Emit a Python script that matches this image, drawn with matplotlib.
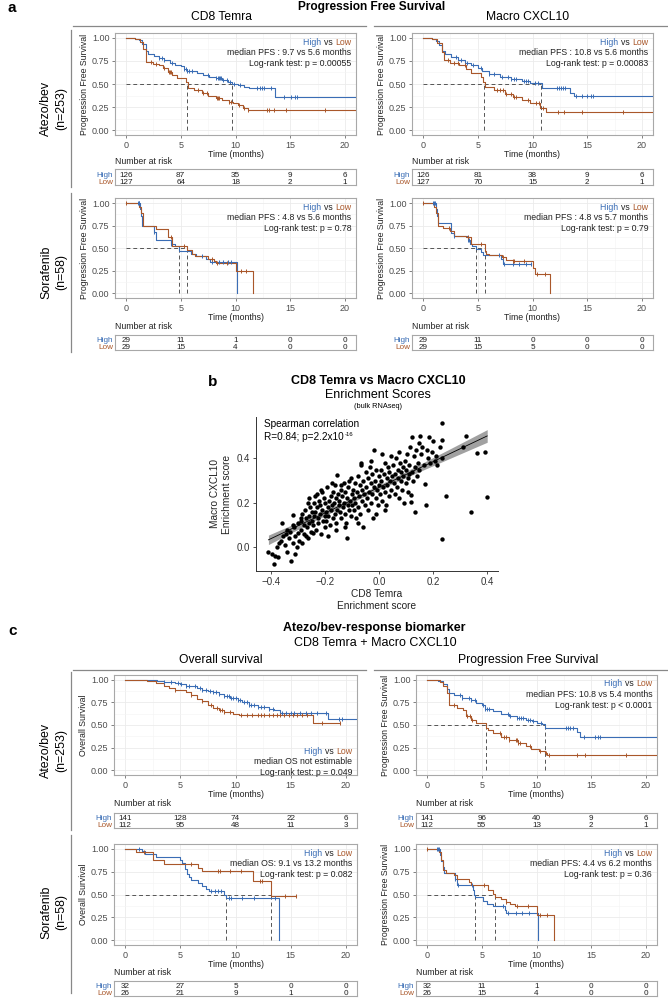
import numpy as np
import matplotlib
matplotlib.use('Agg')
import matplotlib.pyplot as plt
from matplotlib.lines import Line2D

plt.rcParams['font.family'] = ['Liberation Sans', 'DejaVu Sans']

BLUE = '#3A6DB5'
BROWN = '#A9572A'
GRAYTXT = '#4D4D4D'

risk_times = [0, 5, 10, 15, 20]

# ---------------- Panel a : CD8 Temra, Atezo/bev (PFS) ----------------
a11_high_t = [0, 0.8, 1.2, 1.5, 1.8, 2.0, 2.6, 3.0, 3.5, 4.0, 4.5, 5.0, 5.3, 5.6, 6.5, 7.0, 7.6, 8.2, 8.8, 9.3, 9.7, 10.2, 10.8, 11.2, 13.6]
a11_high_s = [1.0, 0.985, 0.97, 0.93, 0.86, 0.82, 0.80, 0.78, 0.76, 0.73, 0.71, 0.69, 0.66, 0.64, 0.62, 0.60, 0.58, 0.56, 0.545, 0.52, 0.50, 0.49, 0.47, 0.46, 0.36]
a11_high_cens = [3.0, 3.3, 3.5, 4.2, 5.3, 5.5, 5.6, 5.8, 6.0, 7.5, 8.2, 8.4, 8.5, 8.6, 8.7, 8.9, 9.2, 9.5, 9.9, 10.4, 12.0, 12.2, 12.4, 12.6, 13.2, 14.4, 15.1, 15.4, 15.6]
a11_high_end = 21
a11_low_t = [0, 0.8, 1.3, 1.6, 1.85, 2.5, 3.0, 3.4, 3.8, 4.2, 4.7, 5.5, 5.65, 6.2, 6.9, 7.5, 8.2, 8.8, 9.4, 9.8, 10.2, 10.7, 11.1]
a11_low_s = [1.0, 0.98, 0.95, 0.88, 0.74, 0.72, 0.70, 0.67, 0.63, 0.60, 0.56, 0.52, 0.46, 0.43, 0.40, 0.37, 0.35, 0.33, 0.31, 0.29, 0.27, 0.245, 0.215]
a11_low_cens = [2.3, 2.7, 3.5, 3.9, 4.0, 4.1, 6.6, 7.0, 7.4, 8.3, 8.4, 8.5, 9.4, 9.6, 10.3, 10.8, 11.1, 12.9, 13.1, 13.5, 14.6, 18.2]
a11_low_end = 21
a11_medians = [9.7, 5.6]
a11_risk_high = [126, 87, 35, 9, 6]
a11_risk_low = [127, 64, 18, 2, 1]
a11_text = ['median PFS : 9.7 vs 5.6 months', 'Log-rank test: p = 0.00055']

# ---------------- Panel a : Macro CXCL10, Atezo/bev (PFS) ----------------
a12_high_t = [0, 0.8, 1.2, 1.5, 1.75, 2.0, 2.6, 3.2, 3.8, 4.4, 5.0, 5.4, 6.0, 7.0, 8.0, 9.0, 9.8, 10.9, 13.4, 13.8]
a12_high_s = [1.0, 0.98, 0.96, 0.92, 0.86, 0.82, 0.79, 0.76, 0.73, 0.70, 0.67, 0.64, 0.61, 0.58, 0.55, 0.53, 0.51, 0.46, 0.40, 0.37]
a12_high_cens = [3.0, 3.5, 4.0, 4.6, 5.3, 6.0, 6.5, 7.2, 7.8, 8.0, 8.3, 8.5, 9.2, 9.4, 9.6, 10.2, 10.5, 12.2, 12.4, 12.6, 12.8, 13.0, 14.0, 14.5, 15.0, 15.3, 15.5]
a12_high_end = 21
a12_low_t = [0, 0.8, 1.3, 1.7, 1.9, 2.5, 3.3, 3.9, 4.4, 5.3, 5.5, 5.7, 6.5, 7.5, 8.2, 9.0, 9.8, 10.7, 11.2]
a12_low_s = [1.0, 0.98, 0.94, 0.85, 0.76, 0.73, 0.70, 0.66, 0.62, 0.58, 0.52, 0.47, 0.43, 0.39, 0.36, 0.33, 0.30, 0.24, 0.20]
a12_low_cens = [2.3, 2.8, 3.2, 3.8, 6.8, 7.0, 7.3, 7.6, 8.0, 8.3, 8.5, 9.6, 10.3, 10.6, 11.0, 12.3, 12.9, 14.5, 18.3]
a12_low_end = 21
a12_medians = [10.8, 5.6]
a12_risk_high = [126, 81, 38, 9, 6]
a12_risk_low = [127, 70, 15, 2, 1]
a12_text = ['median PFS : 10.8 vs 5.6 months', 'Log-rank test: p = 0.00083']

# ---------------- Panel a : CD8 Temra, Sorafenib (PFS) ----------------
a21_high_t = [0, 1.3, 1.4, 1.5, 2.6, 2.7, 4.1, 4.5, 4.8, 5.9, 6.4, 7.3, 7.7, 10.1]
a21_high_s = [1.0, 0.93, 0.86, 0.75, 0.68, 0.59, 0.55, 0.52, 0.47, 0.44, 0.41, 0.38, 0.35, 0.0]
a21_high_cens = [1.1, 1.15, 1.2, 2.6, 4.1, 6.9, 7.9, 8.5, 8.9, 9.3, 9.6]
a21_high_end = 10.1
a21_low_t = [0, 1.2, 1.4, 1.6, 2.7, 3.8, 4.2, 5.6, 6.0, 6.3, 7.5, 8.0, 8.2, 10.0, 11.6]
a21_low_s = [1.0, 0.96, 0.89, 0.75, 0.71, 0.62, 0.53, 0.48, 0.44, 0.41, 0.38, 0.36, 0.34, 0.25, 0.0]
a21_low_cens = [0, 4.1, 5.3, 7.9, 8.3, 9.2, 10.5, 11.0]
a21_low_end = 11.6
a21_medians = [4.8, 5.6]
a21_risk_high = [29, 11, 1, 0, 0]
a21_risk_low = [29, 15, 4, 0, 0]
a21_text = ['median PFS : 4.8 vs 5.6 months', 'Log-rank test: p = 0.78']

# ---------------- Panel a : Macro CXCL10, Sorafenib (PFS) ----------------
a22_high_t = [0, 1.2, 1.3, 1.4, 2.6, 2.8, 4.1, 4.3, 4.5, 4.8, 5.3, 5.5, 7.1, 7.3]
a22_high_s = [1.0, 0.93, 0.86, 0.78, 0.67, 0.63, 0.59, 0.55, 0.52, 0.49, 0.46, 0.42, 0.38, 0.33]
a22_high_cens = [0.9, 1.0, 1.1, 2.8, 4.1, 4.2, 6.9, 7.4, 8.2, 8.8, 9.4, 9.9]
a22_high_end = 9.9
a22_low_t = [0, 1.0, 1.2, 1.4, 1.8, 2.5, 2.8, 3.9, 4.4, 5.7, 5.8, 6.0, 7.2, 7.6, 8.2, 10.0, 10.2, 11.6]
a22_low_s = [1.0, 0.96, 0.89, 0.75, 0.72, 0.69, 0.64, 0.62, 0.55, 0.47, 0.44, 0.42, 0.40, 0.37, 0.36, 0.28, 0.21, 0.0]
a22_low_cens = [0, 2.4, 4.1, 5.3, 7.3, 8.2, 8.3, 9.2, 10.4, 11.1]
a22_low_end = 11.6
a22_medians = [4.8, 5.7]
a22_risk_high = [29, 11, 0, 0, 0]
a22_risk_low = [29, 15, 5, 0, 0]
a22_text = ['median PFS : 4.8 vs 5.7 months', 'Log-rank test: p = 0.79']

# ---------------- Panel c : Overall survival, Atezo/bev ----------------
c11_high_t = [0, 2.9, 3.5, 4.5, 5.0, 5.5, 6.5, 7.0, 7.5, 8.0, 8.5, 9.0, 9.5, 10.2, 10.6, 11.2, 12.0, 13.0, 13.5, 14.0, 18.4]
c11_high_s = [1.0, 0.98, 0.97, 0.96, 0.95, 0.93, 0.91, 0.89, 0.87, 0.86, 0.84, 0.82, 0.80, 0.78, 0.75, 0.72, 0.70, 0.68, 0.66, 0.63, 0.57]
c11_high_cens = [3.5, 4.2, 4.8, 5.1, 5.5, 5.8, 6.3, 6.8, 7.0, 7.3, 7.7, 8.0, 8.2, 8.5, 9.0, 9.2, 9.4, 9.6, 9.8, 10.0, 10.2, 10.4, 10.8, 11.0, 11.2, 11.4, 11.7, 12.0, 12.3, 12.6, 13.0, 13.4, 14.2, 14.6, 15.0, 15.3, 15.8, 16.4, 16.8, 17.4, 18.2, 19.4, 19.6]
c11_high_end = 21
c11_low_t = [0, 1.0, 2.0, 2.8, 3.5, 4.0, 4.5, 5.5, 6.0, 6.5, 7.0, 7.5, 8.0, 8.5, 9.0, 9.8, 10.3, 17.0]
c11_low_s = [1.0, 0.99, 0.98, 0.96, 0.93, 0.91, 0.88, 0.86, 0.83, 0.79, 0.76, 0.72, 0.69, 0.66, 0.64, 0.62, 0.61, 0.52]
c11_low_cens = [4.5, 6.0, 7.0, 7.8, 8.3, 8.6, 8.8, 9.0, 9.5, 10.5, 11.0, 11.5, 12.0, 12.3, 12.6, 13.0, 13.4, 13.8, 14.0, 14.4, 14.8, 15.2, 15.6, 16.0, 16.5, 17.8, 19.5]
c11_low_end = 19.5
c11_medians = []
c11_risk_high = [141, 128, 74, 22, 6]
c11_risk_low = [112, 95, 48, 11, 3]
c11_text = ['median OS not estimable', 'Log-rank test: p = 0.049']

# ---------------- Panel c : PFS, Atezo/bev ----------------
c12_high_t = [0, 1.0, 1.5, 1.8, 2.0, 2.5, 3.2, 4.0, 4.5, 5.0, 5.3, 6.0, 6.8, 7.5, 8.2, 9.0, 9.6, 10.0, 10.5, 10.8, 13.7, 14.0]
c12_high_s = [1.0, 0.98, 0.95, 0.90, 0.85, 0.83, 0.80, 0.77, 0.74, 0.72, 0.68, 0.65, 0.62, 0.60, 0.58, 0.56, 0.54, 0.52, 0.51, 0.47, 0.42, 0.37]
c12_high_cens = [3.0, 3.2, 3.8, 4.0, 4.4, 5.1, 5.3, 5.5, 5.7, 7.4, 7.6, 8.2, 8.4, 8.6, 8.8, 9.2, 9.4, 9.7, 10.4, 12.7, 12.9, 13.1, 13.3, 14.3, 15.3, 15.6, 15.8]
c12_high_end = 21
c12_low_t = [0, 1.2, 1.5, 1.8, 2.0, 2.7, 3.3, 3.6, 4.0, 4.5, 5.4, 5.6, 6.0, 6.8, 7.5, 8.3, 9.0, 9.5, 10.2, 10.8, 11.0]
c12_low_s = [1.0, 0.97, 0.93, 0.85, 0.72, 0.69, 0.66, 0.60, 0.55, 0.52, 0.47, 0.44, 0.41, 0.37, 0.33, 0.30, 0.27, 0.24, 0.21, 0.19, 0.17]
c12_low_cens = [2.5, 3.7, 3.9, 4.1, 6.7, 7.0, 7.2, 7.5, 8.1, 8.2, 8.3, 8.5, 9.4, 10.3, 10.9, 11.1, 13.7, 14.4, 18.2]
c12_low_end = 21
c12_medians = [10.8, 5.4]
c12_risk_high = [141, 96, 40, 9, 6]
c12_risk_low = [112, 55, 13, 2, 1]
c12_text = ['median PFS: 10.8 vs 5.4 months', 'Log-rank test: p < 0.0001']

# ---------------- Panel c : Overall survival, Sorafenib ----------------
c21_high_t = [0, 1.5, 1.8, 2.8, 5.0, 5.2, 5.4, 5.6, 5.8, 6.0, 6.6, 7.0, 7.3, 7.6, 9.0, 9.1, 13.9]
c21_high_s = [1.0, 0.97, 0.94, 0.91, 0.88, 0.84, 0.78, 0.72, 0.69, 0.66, 0.62, 0.59, 0.56, 0.54, 0.50, 0.46, 0.0]
c21_high_cens = [1.3, 7.8, 8.1, 8.4, 8.7, 9.4, 9.6, 10.6, 11.7, 13.6]
c21_high_end = 13.9
c21_low_t = [0, 1.0, 2.5, 3.5, 6.6, 7.0, 11.6, 13.2]
c21_low_s = [1.0, 0.96, 0.88, 0.83, 0.79, 0.76, 0.65, 0.48]
c21_low_cens = [1.7, 6.0, 8.4, 8.6, 9.5, 10.5, 12.2, 12.4, 14.5, 15.5]
c21_low_end = 15.5
c21_medians = [9.1, 13.2]
c21_risk_high = [32, 27, 5, 0, 0]
c21_risk_low = [26, 21, 9, 1, 0]
c21_text = ['median OS: 9.1 vs 13.2 months', 'Log-rank test: p = 0.082']

# ---------------- Panel c : PFS, Sorafenib ----------------
c22_high_t = [0, 1.2, 1.3, 1.5, 1.6, 2.6, 2.7, 4.2, 4.3, 4.4, 5.1, 5.5, 6.0, 7.1, 7.2, 10.1]
c22_high_s = [1.0, 0.93, 0.86, 0.80, 0.73, 0.67, 0.60, 0.55, 0.50, 0.47, 0.43, 0.40, 0.37, 0.33, 0.30, 0.0]
c22_high_cens = [0.9, 1.0, 1.1, 2.6, 2.8, 4.1, 6.9, 7.4, 8.1, 8.7, 9.3]
c22_high_end = 10.1
c22_low_t = [0, 1.1, 1.3, 1.5, 1.7, 2.5, 2.7, 3.8, 4.0, 5.6, 6.0, 6.2, 6.8, 7.2, 7.6, 8.0, 10.0, 11.6]
c22_low_s = [1.0, 0.96, 0.88, 0.77, 0.73, 0.71, 0.67, 0.64, 0.60, 0.55, 0.51, 0.47, 0.45, 0.42, 0.40, 0.38, 0.28, 0.0]
c22_low_cens = [0, 5.2, 7.2, 8.2, 9.2, 10.3, 11.0]
c22_low_end = 11.6
c22_medians = [4.4, 6.2]
c22_risk_high = [32, 11, 1, 0, 0]
c22_risk_low = [26, 15, 4, 0, 0]
c22_text = ['median PFS: 4.4 vs 6.2 months', 'Log-rank test: p = 0.36']

# ---------------- Panel b : scatter ----------------
b_cd8 = [-0.41, -0.39, -0.385, -0.395, -0.38, -0.375, -0.37, -0.36, -0.365, -0.355, -0.35, -0.345, -0.34,
         -0.335, -0.33, -0.325, -0.32, -0.318, -0.315, -0.31, -0.305, -0.30, -0.30, -0.31, -0.32, -0.34, -0.295,
         -0.29, -0.288, -0.285, -0.28, -0.278, -0.275, -0.27, -0.268, -0.265, -0.262, -0.26, -0.258, -0.255, -0.252, -0.25, -0.285, -0.29, -0.27, -0.26,
         -0.248, -0.245, -0.243, -0.24, -0.238, -0.235, -0.232, -0.23, -0.228, -0.225, -0.222, -0.22, -0.218, -0.215, -0.212, -0.21, -0.208, -0.205, -0.202, -0.20, -0.245, -0.236, -0.215, -0.20,
         -0.198, -0.195, -0.192, -0.19, -0.188, -0.185, -0.182, -0.18, -0.178, -0.175, -0.172, -0.17, -0.168, -0.165, -0.162, -0.16, -0.158, -0.156, -0.155, -0.152, -0.15, -0.19, -0.175, -0.16,
         -0.148, -0.145, -0.142, -0.14, -0.138, -0.135, -0.132, -0.13, -0.128, -0.125, -0.122, -0.12, -0.118, -0.116, -0.114, -0.112, -0.11, -0.108, -0.105, -0.102, -0.10, -0.14, -0.125, -0.105,
         -0.098, -0.095, -0.092, -0.09, -0.088, -0.085, -0.082, -0.08, -0.078, -0.075, -0.072, -0.07, -0.068, -0.066, -0.065, -0.062, -0.06, -0.058, -0.055, -0.052, -0.05, -0.08,
         -0.048, -0.045, -0.042, -0.04, -0.038, -0.035, -0.032, -0.03, -0.028, -0.025, -0.022, -0.02, -0.018, -0.015, -0.012, -0.01, -0.008, -0.005, -0.002, 0.0, -0.03, -0.01,
         0.003, 0.006, 0.008, 0.01, 0.012, 0.015, 0.018, 0.02, 0.022, 0.025, 0.028, 0.03, 0.032, 0.035, 0.038, 0.04, 0.042, 0.045, 0.048, 0.02,
         0.052, 0.055, 0.058, 0.06, 0.062, 0.065, 0.068, 0.07, 0.072, 0.075, 0.078, 0.08, 0.082, 0.085, 0.088, 0.09, 0.092, 0.095, 0.098, 0.10,
         0.102, 0.105, 0.108, 0.11, 0.112, 0.115, 0.118, 0.118, 0.12, 0.122, 0.125, 0.128, 0.131, 0.133, 0.136, 0.14, 0.143, 0.146, 0.15, 0.148,
         0.155, 0.16, 0.165, 0.17, 0.174, 0.178, 0.182, 0.186, 0.19, 0.195, 0.20, 0.205, 0.21, 0.215, 0.225, 0.232, 0.232, 0.232, 0.232, 0.248,
         0.31, 0.322, 0.34, 0.364, 0.393, 0.40]
b_cxcl10 = [-0.02, -0.075, -0.04, -0.03, 0.0, -0.045, 0.02, 0.11, 0.03, 0.05, 0.01, 0.06, -0.02,
            0.04, 0.07, -0.063, 0.02, 0.145, 0.09, 0.05, 0.0, 0.11, 0.065, -0.03, 0.10, 0.08, 0.03,
            0.08, 0.12, 0.15, 0.10, 0.06, 0.17, 0.13, 0.09, 0.20, 0.04, 0.14, 0.11, 0.18, 0.07, 0.16, 0.02, 0.13, 0.05, 0.22,
            0.12, 0.10, 0.20, 0.14, 0.16, 0.08, 0.18, 0.24, 0.13, 0.11, 0.21, 0.15, 0.19, 0.06, 0.17, 0.25, 0.12, 0.22, 0.14, 0.09, 0.065, 0.23, 0.26, 0.20,
            0.16, 0.12, 0.27, 0.18, 0.14, 0.21, 0.10, 0.23, 0.17, 0.19, 0.13, 0.25, 0.20, 0.15, 0.28, 0.08, 0.22, 0.325, 0.17, 0.24, 0.19, 0.05, 0.29, 0.11,
            0.21, 0.16, 0.26, 0.13, 0.23, 0.18, 0.29, 0.20, 0.15, 0.25, 0.11, 0.22, 0.04, 0.19, 0.27, 0.17, 0.30, 0.21, 0.14, 0.24, 0.19, 0.28, 0.09, 0.31,
            0.26, 0.17, 0.22, 0.29, 0.20, 0.13, 0.25, 0.32, 0.18, 0.23, 0.28, 0.15, 0.38, 0.37, 0.21, 0.26, 0.30, 0.09, 0.24, 0.19, 0.34, 0.11,
            0.27, 0.22, 0.31, 0.17, 0.25, 0.36, 0.20, 0.29, 0.24, 0.33, 0.13, 0.27, 0.44, 0.30, 0.22, 0.35, 0.26, 0.19, 0.32, 0.28, 0.39, 0.15,
            0.24, 0.35, 0.30, 0.21, 0.42, 0.27, 0.33, 0.25, 0.38, 0.19, 0.31, 0.28, 0.36, 0.23, 0.34, 0.30, 0.41, 0.26, 0.32, 0.17,
            0.37, 0.29, 0.24, 0.33, 0.40, 0.27, 0.35, 0.31, 0.43, 0.22, 0.38, 0.30, 0.34, 0.26, 0.36, 0.32, 0.20, 0.39, 0.29, 0.35,
            0.42, 0.31, 0.25, 0.37, 0.33, 0.45, 0.237, 0.204, 0.497, 0.34, 0.30, 0.41, 0.159, 0.36, 0.44, 0.32, 0.38, 0.47, 0.50, 0.35,
            0.42, 0.45, 0.37, 0.287, 0.19, 0.44, 0.40, 0.497, 0.38, 0.43, 0.477, 0.39, 0.41, 0.37, 0.45, 0.56, 0.485, 0.035, 0.40, 0.23,
            0.45, 0.50, 0.16, 0.425, 0.43, 0.225]

W, H = 668, 999
fig = plt.figure(figsize=(6.68, 9.99), dpi=100)
fig.patch.set_facecolor('white')


def rect(x0, y0, x1, y1):
    return [x0 / W, 1 - y1 / H, (x1 - x0) / W, (y1 - y0) / H]


def ftext(x, y, s, **kw):
    return fig.text(x / W, 1 - y / H, s, **kw)


def fline(x0, y0, x1, y1, **kw):
    fig.add_artist(Line2D([x0 / W, x1 / W], [1 - y0 / H, 1 - y1 / H], transform=fig.transFigure, **kw))


def draw_curve(ax, t, s, cens, end, color):
    tt = list(t) + [end]
    ss = list(s) + [s[-1]]
    ax.step(tt, ss, where='post', color=color, lw=0.8, zorder=3)
    t_arr = np.array(t)
    s_arr = np.array(s)
    c = np.array(cens, dtype=float)
    idx = np.searchsorted(t_arr, c, side='right') - 1
    ax.plot(c, s_arr[idx], ls='none', marker='|', color=color, ms=3.5, mew=0.7, zorder=4)


def colored_hvl(ax, x, y, fs):
    low = ax.text(x, y, 'Low', color=BROWN, fontsize=fs, ha='right', va='top', transform=ax.transAxes)
    vs = ax.annotate('vs ', xy=(0, 0), xycoords=low, color='#222222', fontsize=fs, ha='right', va='bottom')
    ax.annotate('High ', xy=(0, 0), xycoords=vs, color=BLUE, fontsize=fs, ha='right', va='bottom')


def km_panel(px, py, ty, high, low, medians, ylabel, texts, text_bottom, risk_high, risk_low):
    x0, x1 = px
    y0, y1 = py
    ax = fig.add_axes(rect(x0, y0, x1, y1))
    ax.set_xlim(-1, 21)
    ax.set_ylim(-0.05, 1.05)
    ax.set_xticks(risk_times)
    ax.set_xticks([2.5, 7.5, 12.5, 17.5], minor=True)
    ax.set_yticks([0, 0.25, 0.5, 0.75, 1.0])
    ax.set_yticks([0.125, 0.375, 0.625, 0.875], minor=True)
    ax.set_yticklabels(['0.00', '0.25', '0.50', '0.75', '1.00'])
    ax.grid(True, which='major', color='#EBEBEB', lw=0.6, zorder=0)
    ax.grid(True, which='minor', color='#F4F4F4', lw=0.4, zorder=0)
    ax.set_axisbelow(True)
    for sp in ax.spines.values():
        sp.set_color('#A8A8A8')
        sp.set_linewidth(0.8)
    ax.tick_params(which='major', labelsize=6.5, colors=GRAYTXT, length=2, width=0.5, pad=2)
    ax.tick_params(which='minor', length=0)
    ax.set_ylabel(ylabel, fontsize=6.3, color='#222222', labelpad=2)
    ax.set_xlabel('Time (months)', fontsize=6.3, color='#222222', labelpad=0)
    if medians:
        ax.plot([0, max(medians)], [0.5, 0.5], ls=(0, (4, 3)), color='#555555', lw=0.7, zorder=2)
        for m in medians:
            ax.plot([m, m], [0, 0.5], ls=(0, (4, 3)), color='#555555', lw=0.7, zorder=2)
    draw_curve(ax, *high, BLUE)
    draw_curve(ax, *low, BROWN)
    fs = 6.3
    if text_bottom:
        ys = [0.28, 0.175, 0.07]
    else:
        ys = [0.955, 0.85, 0.745]
    colored_hvl(ax, 0.98, ys[0], fs)
    for yy, s in zip(ys[1:], texts):
        ax.text(0.98, yy, s, fontsize=fs, ha='right', va='top', transform=ax.transAxes, color='#222222')
    # risk table
    t0, t1 = ty
    ftext(x0, t0 - 4, 'Number at risk', fontsize=6.3, ha='left', va='bottom', color='#222222')
    tab = fig.add_axes(rect(x0, t0, x1, t1))
    tab.set_xlim(-1, 21)
    tab.set_ylim(0, 2)
    tab.set_xticks([])
    tab.set_yticks([])
    for v in risk_times:
        tab.axvline(v, color='#EFEFEF', lw=0.5, zorder=0)
    for sp in tab.spines.values():
        sp.set_color('#A8A8A8')
        sp.set_linewidth(0.8)
    tfs = 5.9
    for tt, h, l in zip(risk_times, risk_high, risk_low):
        tab.text(tt, 1.03, str(h), fontsize=tfs, ha='center', va='baseline', color='#222222')
        tab.text(tt, 0.13, str(l), fontsize=tfs, ha='center', va='baseline', color='#222222')
    tab.text(-0.008, 0.515, 'High', fontsize=tfs, ha='right', va='baseline', color=BLUE, transform=tab.transAxes)
    tab.text(-0.008, 0.065, 'Low', fontsize=tfs, ha='right', va='baseline', color=BROWN, transform=tab.transAxes)
    return ax


PFS = 'Progression Free Survival'
OS = 'Overall Survival'

# ---------------- Panel a layout ----------------
ftext(8, 8, 'a', fontsize=11, fontweight='bold', ha='left', va='center')
ftext(372, 7, 'Progression Free Survival', fontsize=8.6, fontweight='bold', ha='center', va='center')
ftext(221, 17, 'CD8 Temra', fontsize=8.7, ha='center', va='center')
ftext(528, 17, 'Macro CXCL10', fontsize=8.7, ha='center', va='center')
fline(73, 26, 366, 26, color='#888888', lw=0.9)
fline(374, 26, 668, 26, color='#888888', lw=0.9)
fline(70.5, 30, 70.5, 187, color='#888888', lw=0.9)
fline(70.5, 193, 70.5, 352, color='#888888', lw=0.9)
ftext(54, 108, 'Atezo/bev\n(n=253)', fontsize=8.9, rotation=90, ha='center', va='center', linespacing=1.35)
ftext(54, 272, 'Sorafenib\n(n=58)', fontsize=8.9, rotation=90, ha='center', va='center', linespacing=1.35)

km_panel((115, 356), (33, 135), (169.5, 185),
         (a11_high_t, a11_high_s, a11_high_cens, a11_high_end),
         (a11_low_t, a11_low_s, a11_low_cens, a11_low_end),
         a11_medians, PFS, a11_text, False, a11_risk_high, a11_risk_low)
km_panel((412, 653), (33, 135), (169.5, 185),
         (a12_high_t, a12_high_s, a12_high_cens, a12_high_end),
         (a12_low_t, a12_low_s, a12_low_cens, a12_low_end),
         a12_medians, PFS, a12_text, False, a12_risk_high, a12_risk_low)
km_panel((115, 356), (198.5, 298), (335, 350),
         (a21_high_t, a21_high_s, a21_high_cens, a21_high_end),
         (a21_low_t, a21_low_s, a21_low_cens, a21_low_end),
         a21_medians, PFS, a21_text, False, a21_risk_high, a21_risk_low)
km_panel((412, 653), (198.5, 298), (335, 350),
         (a22_high_t, a22_high_s, a22_high_cens, a22_high_end),
         (a22_low_t, a22_low_s, a22_low_cens, a22_low_end),
         a22_medians, PFS, a22_text, False, a22_risk_high, a22_risk_low)

# ---------------- Panel b ----------------
ftext(213, 382, 'b', fontsize=11, fontweight='bold', ha='center', va='center')
ftext(378, 381, 'CD8 Temra vs Macro CXCL10', fontsize=9, fontweight='bold', ha='center', va='center')
ftext(378, 395, 'Enrichment Scores', fontsize=9, ha='center', va='center')
ftext(378, 406.5, '(bulk RNAseq)', fontsize=5.3, ha='center', va='center')

bx = fig.add_axes(rect(256, 417, 498, 571))
xs = np.array(b_cd8)
ys = np.array(b_cxcl10)
coef = np.polyfit(xs, ys, 1)
xg = np.linspace(xs.min(), xs.max(), 100)
yg = np.polyval(coef, xg)
n = len(xs)
resid = ys - np.polyval(coef, xs)
se = np.sqrt(np.sum(resid ** 2) / (n - 2))
sxx = np.sum((xs - xs.mean()) ** 2)
band = 1.97 * se * np.sqrt(1 / n + (xg - xs.mean()) ** 2 / sxx)
bx.fill_between(xg, yg - band, yg + band, color='#555555', alpha=0.55, lw=0, zorder=2)
bx.scatter(xs, ys, s=10, color='black', lw=0, zorder=3)
bx.plot(xg, yg, color='black', lw=0.6, zorder=4)
bx.set_xlim(-0.456, 0.44)
bx.set_ylim(-0.107, 0.587)
bx.set_xticks([-0.4, -0.2, 0.0, 0.2, 0.4])
bx.set_xticklabels(['\u22120.4', '\u22120.2', '0.0', '0.2', '0.4'])
bx.set_yticks([0.0, 0.2, 0.4])
bx.set_yticklabels(['0.0', '0.2', '0.4'])
for side in ['top', 'right']:
    bx.spines[side].set_visible(False)
for side in ['left', 'bottom']:
    bx.spines[side].set_color('#333333')
    bx.spines[side].set_linewidth(0.7)
bx.tick_params(labelsize=7, colors='#333333', length=2.5, width=0.6, pad=2)
bx.set_xlabel('CD8 Temra\nEnrichment score', fontsize=7.3, color='#222222', labelpad=1, linespacing=1.25)
bx.set_ylabel('Macro CXCL10\nEnrichment score', fontsize=7.3, color='#222222', labelpad=3, linespacing=1.25)
bx.text(0.035, 0.985, 'Spearman correlation', transform=bx.transAxes, fontsize=7.2, ha='left', va='top')
rtxt = bx.text(0.035, 0.905, 'R=0.84; p=2.2x10', transform=bx.transAxes, fontsize=7.2, ha='left', va='top')
bx.annotate('-16', xy=(1, 1), xycoords=rtxt, fontsize=4.3, ha='left', va='top', xytext=(0.3, 0), textcoords='offset points')

# ---------------- Panel c layout ----------------
ftext(8, 631, 'c', fontsize=11, fontweight='bold', ha='left', va='center')
ftext(374, 628, 'Atezo/bev-response biomarker', fontsize=9, fontweight='bold', ha='center', va='center')
ftext(375, 643, 'CD8 Temra + Macro CXCL10', fontsize=9, ha='center', va='center')
ftext(221, 660, 'Overall survival', fontsize=8.7, ha='center', va='center')
ftext(528, 660, 'Progression Free Survival', fontsize=8.7, ha='center', va='center')
fline(73, 669.5, 366, 669.5, color='#888888', lw=0.9)
fline(374, 669.5, 668, 669.5, color='#888888', lw=0.9)
fline(70.5, 672, 70.5, 830, color='#888888', lw=0.9)
fline(70.5, 835, 70.5, 993, color='#888888', lw=0.9)
ftext(54, 750, 'Atezo/bev\n(n=253)', fontsize=8.9, rotation=90, ha='center', va='center', linespacing=1.35)
ftext(54, 912, 'Sorafenib\n(n=58)', fontsize=8.9, rotation=90, ha='center', va='center', linespacing=1.35)

km_panel((114, 357), (675, 775), (812.5, 828),
         (c11_high_t, c11_high_s, c11_high_cens, c11_high_end),
         (c11_low_t, c11_low_s, c11_low_cens, c11_low_end),
         c11_medians, OS, c11_text, True, c11_risk_high, c11_risk_low)
km_panel((416, 657), (675, 775), (812.5, 828),
         (c12_high_t, c12_high_s, c12_high_cens, c12_high_end),
         (c12_low_t, c12_low_s, c12_low_cens, c12_low_end),
         c12_medians, PFS, c12_text, False, c12_risk_high, c12_risk_low)
km_panel((114, 357), (844, 945), (981, 996),
         (c21_high_t, c21_high_s, c21_high_cens, c21_high_end),
         (c21_low_t, c21_low_s, c21_low_cens, c21_low_end),
         c21_medians, OS, c21_text, False, c21_risk_high, c21_risk_low)
km_panel((416, 657), (844, 945), (981, 996),
         (c22_high_t, c22_high_s, c22_high_cens, c22_high_end),
         (c22_low_t, c22_low_s, c22_low_cens, c22_low_end),
         c22_medians, PFS, c22_text, False, c22_risk_high, c22_risk_low)

fig.savefig('out.png', dpi=100, facecolor='white')
